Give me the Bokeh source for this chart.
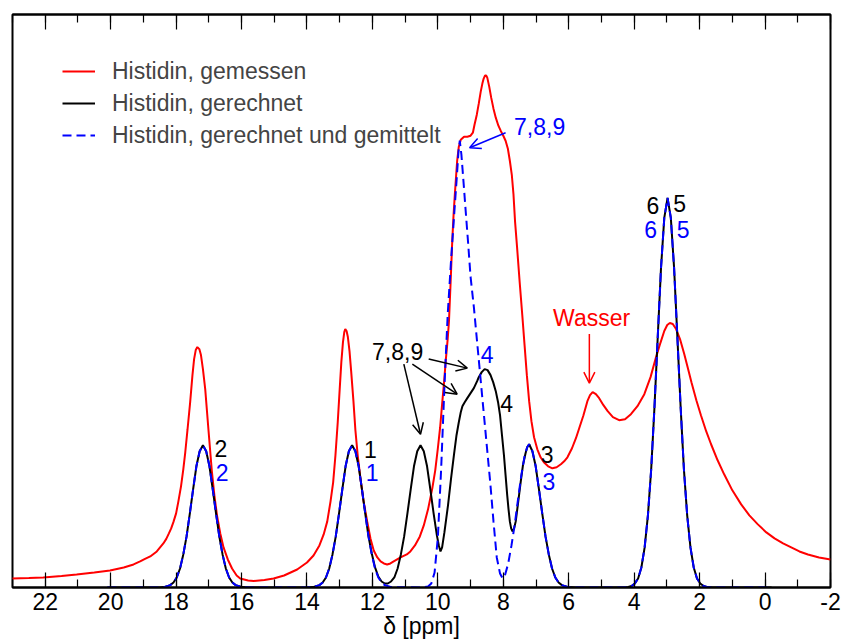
from bokeh.plotting import figure
from bokeh.models import (Range1d, LinearAxis, FixedTicker, Legend, LegendItem,
                          Arrow, OpenHead, ColumnDataSource)
from bokeh.core.properties import value
from bokeh.embed import file_html
from bokeh.resources import INLINE

FONT = "Liberation Sans"
FS = "23px"

# ---------------- data ----------------
# chemical shift in ppm, intensity in arbitrary units
measured_ppm = [
    23.05, 22.5, 22.06, 21.5, 21.04, 20.5, 20.02, 19.6, 19.30, 19.10,
    18.95, 18.79, 18.59, 18.39, 18.30, 18.22, 18.15, 18.08, 18.0, 17.93, 17.85,
    17.78, 17.72, 17.65, 17.57, 17.50, 17.45, 17.40, 17.35, 17.29, 17.24,
    17.18, 17.11, 17.01, 16.91, 16.83, 16.75, 16.65, 16.55, 16.42, 16.29,
    16.15, 16.04, 15.8, 15.63, 15.3, 15.02, 14.7, 14.30, 14.0, 13.80,
    13.62, 13.49, 13.38, 13.28, 13.20, 13.13, 13.06, 13.00, 12.95, 12.90,
    12.86, 12.83, 12.79, 12.75, 12.70, 12.65, 12.58, 12.52, 12.45, 12.37,
    12.27, 12.16, 12.06, 11.96, 11.85, 11.75, 11.65, 11.55, 11.45, 11.35,
    11.14, 10.95, 10.84, 10.70, 10.55, 10.43, 10.30, 10.17, 10.08, 10.00,
    9.93, 9.87, 9.81, 9.76, 9.70, 9.66, 9.61, 9.56, 9.52, 9.48,
    9.44, 9.41, 9.36, 9.30, 9.20, 9.10, 9.00, 8.93, 8.88, 8.81,
    8.75, 8.69, 8.64, 8.60, 8.56, 8.52, 8.49, 8.43, 8.37, 8.30,
    8.23, 8.15, 8.08, 8.00, 7.93, 7.86, 7.80, 7.74, 7.69, 7.64,
    7.58, 7.50, 7.42, 7.35, 7.28, 7.21, 7.14, 7.06, 6.96, 6.86,
    6.76, 6.63, 6.50, 6.37, 6.24, 6.14, 6.04, 5.90, 5.78, 5.68,
    5.55, 5.43, 5.35, 5.27, 5.17, 5.07, 4.94, 4.81, 4.65, 4.46,
    4.28, 4.10, 3.90, 3.69, 3.50, 3.34, 3.20, 3.08, 2.99, 2.91,
    2.82, 2.72, 2.60, 2.47, 2.36, 2.25, 2.10, 1.96, 1.80, 1.65,
    1.45, 1.25, 1.00, 0.73, 0.48, 0.22, -0.04, -0.29, -0.55, -0.80,
    -1.05, -1.31, -1.65, -2.0]
measured_int = [
    9, 9.5, 10, 11.5, 13, 15, 17, 20, 23, 26,
    28.5, 31, 36, 44, 48.5, 54, 59, 65.5, 74, 86, 101,
    118, 135, 158, 185, 212, 228, 237, 240, 238, 232,
    218, 198, 157, 117, 92, 72, 54, 40, 28, 19,
    12, 9, 7, 6.5, 7.5, 9, 12, 18, 25, 32,
    42, 53, 66, 86, 105, 132, 165, 198, 225, 245,
    255, 258, 256, 250, 236, 216, 186, 157, 132, 110,
    86, 66, 49, 37, 30, 26, 24, 23, 24, 26,
    30, 33, 36, 42, 51, 62, 78, 99, 117, 139,
    160, 183, 205, 226, 248, 266, 305, 346, 372, 393,
    412, 426, 440, 447, 450, 450, 451, 454, 462, 472,
    483, 495, 503, 508, 511, 511, 509, 500, 489, 478,
    469, 461, 456, 451, 446, 438, 426, 412, 393, 365,
    340, 305, 272, 242, 212, 186, 166, 150, 138, 130,
    125, 121, 119, 120, 123, 126, 130, 139, 149, 159,
    172, 186, 192, 195, 193, 189, 182, 176, 170, 167,
    168, 173, 181, 193, 210, 229, 244, 256, 262, 264,
    263, 258, 248, 233, 219, 205, 187, 172, 156, 143,
    127, 113, 97, 83, 72, 63, 55, 49, 44, 40,
    36, 33, 30, 28]

calc_ppm = [
    20.1, 18.5, 18.37, 18.18, 18.08, 17.98, 17.88, 17.78, 17.68, 17.58,
    17.48, 17.38, 17.28, 17.18, 17.08, 16.98, 16.88, 16.78, 16.68, 16.58,
    16.48, 16.38, 16.28, 16.18, 15.98, 15.8, 14.0, 13.82, 13.62, 13.52,
    13.42, 13.32, 13.22, 13.12, 13.02, 12.92, 12.82, 12.72, 12.62, 12.52,
    12.42, 12.32, 12.22, 12.12, 12.02, 11.92, 11.82, 11.72, 11.62, 11.53,
    11.43, 11.33, 11.23, 11.13, 11.03, 10.93, 10.83, 10.73, 10.63, 10.53,
    10.43, 10.33, 10.23, 10.13, 10.03, 9.97, 9.92, 9.87, 9.80, 9.69,
    9.60, 9.51, 9.43, 9.36, 9.30, 9.25, 9.18, 9.10, 9.00, 8.90,
    8.80, 8.75, 8.66, 8.57, 8.48, 8.39, 8.31, 8.23, 8.16, 8.10,
    8.04, 7.98, 7.93, 7.88, 7.84, 7.80, 7.76, 7.72, 7.67, 7.62,
    7.55, 7.47, 7.40, 7.32, 7.27, 7.21, 7.11, 7.01, 6.91, 6.81,
    6.71, 6.61, 6.51, 6.41, 6.31, 6.21, 6.01, 5.8, 4.3, 4.18,
    4.08, 3.98, 3.88, 3.78, 3.68, 3.58, 3.48, 3.38, 3.28, 3.18,
    3.08, 2.98, 2.88, 2.78, 2.68, 2.58, 2.48, 2.38, 2.28, 2.18,
    2.08, 1.98, 1.88, 1.78, 1.6, -0.2]
calc_int = [
    0, 0, 0.4, 2.4, 5, 10, 19, 33, 51, 74,
    98, 121, 136, 142, 136, 121, 98, 74, 51, 33,
    19, 10, 5, 2.4, 0.4, 0, 0, 0.4, 2.4, 5,
    10, 19, 33, 51, 74, 98, 121, 136, 142, 136,
    121, 98, 74, 51, 34, 20, 11, 6, 4, 4,
    6, 10, 19, 33, 51, 74, 98, 121, 136, 142,
    136, 121, 98, 74, 52, 42, 36, 40, 55, 82,
    108, 132, 152, 165, 175, 181, 185, 189, 194, 199,
    206, 210, 215, 218, 217, 212, 205, 196, 185, 172,
    152, 132, 112, 92, 78, 66, 59, 56, 59, 66,
    84, 105, 122, 134, 140, 143, 136, 121, 98, 74,
    51, 33, 19, 10, 5, 2.4, 0.4, 0, 0, 0.5,
    1.5, 4, 9, 20, 40, 72, 118, 180, 250, 319,
    369, 389, 369, 319, 250, 180, 118, 72, 40, 20,
    9, 4, 1.5, 0.5, 0, 0]

avg_ppm = [
    20.1, 18.5, 18.37, 18.18, 18.08, 17.98, 17.88, 17.78, 17.68, 17.58,
    17.48, 17.38, 17.28, 17.18, 17.08, 16.98, 16.88, 16.78, 16.68, 16.58,
    16.48, 16.38, 16.28, 16.18, 15.98, 15.8, 14.0, 13.82, 13.62, 13.52,
    13.42, 13.32, 13.22, 13.12, 13.02, 12.92, 12.82, 12.72, 12.62, 12.52,
    12.42, 12.32, 12.22, 12.12, 12.02, 11.92, 11.82, 11.72, 11.62, 11.42,
    10.5, 10.3, 10.2, 10.1, 10.0, 9.9, 9.8, 9.7, 9.6, 9.5,
    9.42, 9.37, 9.33, 9.28, 9.2, 9.15, 9.08, 9.0, 8.9, 8.8,
    8.7, 8.6, 8.5, 8.4, 8.3, 8.2, 8.1, 8.02, 7.95, 7.85,
    7.75, 7.65, 7.55, 7.45, 7.35, 7.27, 7.21, 7.11, 7.01, 6.91,
    6.81, 6.71, 6.61, 6.51, 6.41, 6.31, 6.21, 6.01, 5.8, 4.3,
    4.18, 4.08, 3.98, 3.88, 3.78, 3.68, 3.58, 3.48, 3.38, 3.28,
    3.18, 3.08, 2.98, 2.88, 2.78, 2.68, 2.58, 2.48, 2.38, 2.28,
    2.18, 2.08, 1.98, 1.88, 1.78, 1.6, -0.2]
avg_int = [
    0, 0, 0.4, 2.4, 5, 10, 19, 33, 51, 74,
    98, 121, 136, 142, 136, 121, 98, 74, 51, 33,
    19, 10, 5, 2.4, 0.4, 0, 0, 0.4, 2.4, 5,
    10, 19, 33, 51, 74, 98, 121, 136, 142, 136,
    121, 98, 74, 51, 33, 19, 10, 5, 2.4, 0.4,
    0, 1, 4, 15, 50, 118, 200, 272, 325, 373,
    410, 435, 446, 432, 398, 376, 346, 310, 280, 245,
    210, 175, 140, 105, 66, 30, 14, 9, 12, 24,
    42, 63, 88, 112, 131, 140, 143, 136, 121, 98,
    74, 51, 33, 19, 10, 5, 2.4, 0.4, 0, 0,
    0.5, 1.5, 4, 9, 20, 40, 72, 118, 180, 250,
    319, 369, 389, 369, 319, 250, 180, 118, 72, 40,
    20, 9, 4, 1.5, 0.5, 0, 0]

series_names = ["Histidin, gemessen", "Histidin, gerechnet",
                "Histidin, gerechnet und gemittelt"]

tick_values = [22, 20, 18, 16, 14, 12, 10, 8, 6, 4, 2, 0, -2]
tick_labels = ["22", "20", "18", "16", "14", "12", "10", "8", "6", "4", "2", "0", "-2"]
minor_values = list(range(23, -3, -1))

# peak labels
label_text = ["2", "2", "1", "1", "7,8,9", "4", "4", "3", "3",
              "6", "5", "6", "5", "Wasser", "7,8,9"]
label_ppm = [16.63, 16.59, 12.06, 12.01, 11.23, 8.49, 7.90, 6.66, 6.61,
             3.43, 2.61, 3.50, 2.50, 5.30, 6.89]
label_int = [139, 115, 138, 115, 236, 233, 184, 133, 106,
             381, 383, 357, 357, 269, 460]
label_color = ["black", "blue", "black", "blue", "black", "blue", "black", "black", "blue",
               "black", "black", "blue", "blue", "red", "blue"]

# arrows: start / end
arrow_x0 = [7.93, 5.37, 11.04, 10.78, 10.28]
arrow_y0 = [454, 253, 223, 223, 228]
arrow_x1 = [9.03, 5.37, 10.53, 9.41, 9.10]
arrow_y1 = [439, 204, 153, 193, 219]
arrow_color = ["blue", "red", "black", "black", "black"]

# ---------------- figure ----------------
p = figure(width=842, height=641, x_range=Range1d(23, -2), y_range=Range1d(0, 572),
           x_axis_type=None, y_axis_type=None,
           output_backend="svg", toolbar_location=None,
           min_border_left=12, min_border_right=12, min_border_top=14, min_border_bottom=0)
p.outline_line_color = "black"
p.outline_line_width = 2
p.background_fill_color = "white"
p.border_fill_color = "white"

xb = LinearAxis(ticker=FixedTicker(ticks=tick_values, minor_ticks=minor_values),
                axis_label="δ [ppm]",
                major_label_overrides={v: s for v, s in zip(tick_values, tick_labels)},
                major_tick_in=15, major_tick_out=0, minor_tick_in=8, minor_tick_out=0,
                major_tick_line_width=1.2, minor_tick_line_width=1.2,
                axis_line_width=2,
                major_label_standoff=5, axis_label_standoff=0,
                major_label_text_font=FONT, major_label_text_font_size=FS,
                axis_label_text_font=FONT, axis_label_text_font_size=FS,
                axis_label_text_font_style="normal",
                major_label_text_color="black", axis_label_text_color="black")
p.add_layout(xb, "below")

xt = LinearAxis(ticker=FixedTicker(ticks=tick_values, minor_ticks=minor_values),
                major_label_overrides={v: "" for v in tick_values},
                major_tick_in=15, major_tick_out=0, minor_tick_in=8, minor_tick_out=0,
                major_tick_line_width=1.2, minor_tick_line_width=1.2,
                axis_line_width=2, major_label_standoff=0)
p.add_layout(xt, "above")

r_meas = p.line(measured_ppm, measured_int, line_color="red", line_width=2)
r_calc = p.line(calc_ppm, calc_int, line_color="black", line_width=2)
r_avg = p.line(avg_ppm, avg_int, line_color="blue", line_width=2, line_dash="9 5")

src = ColumnDataSource(dict(x=label_ppm, y=label_int, t=label_text, c=label_color))
p.text(x="x", y="y", text="t", text_color="c", source=src,
       text_font=value(FONT), text_font_size=value(FS),
       text_align="center", text_baseline="middle")

for x0, y0, x1, y1, c in zip(arrow_x0, arrow_y0, arrow_x1, arrow_y1, arrow_color):
    p.add_layout(Arrow(end=OpenHead(size=11, line_color=c, line_width=1.5),
                       x_start=x0, y_start=y0, x_end=x1, y_end=y1,
                       line_color=c, line_width=1.5))

legend = Legend(items=[LegendItem(label=series_names[0], renderers=[r_meas]),
                       LegendItem(label=series_names[1], renderers=[r_calc]),
                       LegendItem(label=series_names[2], renderers=[r_avg])],
                location=(50, 438), border_line_alpha=0, background_fill_alpha=0,
                label_text_font=FONT, label_text_font_size=FS,
                glyph_width=33, glyph_height=28, label_height=28, spacing=4,
                label_standoff=17, padding=0, margin=0)
p.add_layout(legend)

open("out.html", "w").write(file_html(p, INLINE))
